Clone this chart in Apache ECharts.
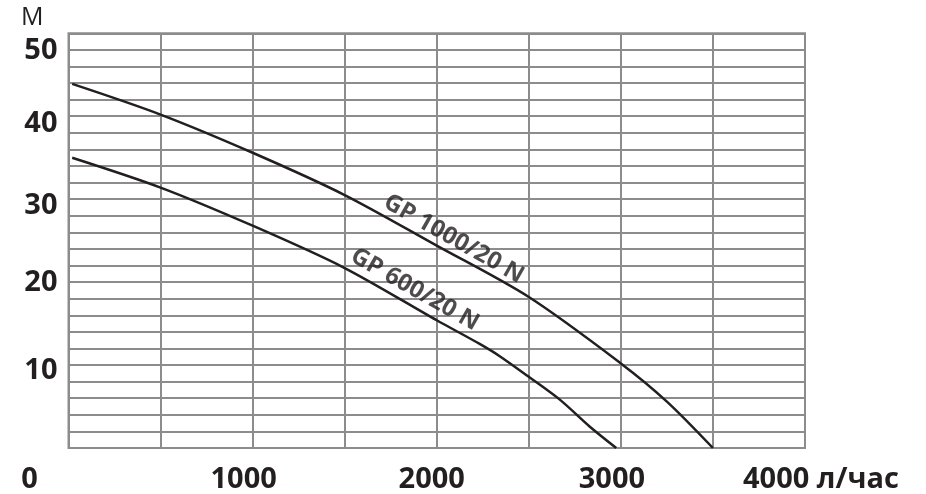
<!DOCTYPE html>
<html>
<head>
<meta charset="utf-8">
<script src="https://cdn.jsdelivr.net/npm/echarts@6/dist/echarts.min.js"></script>
<style>
html,body{margin:0;padding:0;background:#fff;}
#chart{width:926px;height:494px;}
</style>
</head>
<body>
<div id="chart"></div>
<script>
// ---- data ----
const flowGP1000 = [20, 500, 1000, 1500, 2000, 2500, 3000, 3250, 3500];
const headGP1000 = [43.9, 40.2, 35.6, 30.5, 24.4, 18.2, 10.2, 5.6, 0];
const flowGP600 = [20, 500, 1000, 1500, 2000, 2233, 2340, 2505, 2670, 2830, 2975];
const headGP600 = [35.0, 31.4, 26.8, 21.7, 15.4, 12.55, 11.1, 8.5, 5.8, 2.6, 0];
const seriesNames = ['GP 1000/20 N', 'GP 600/20 N'];
const xTickValues = [0, 1000, 2000, 3000, 4000];
const xTickLabels = ['0', '1000', '2000', '3000', '4000 л/час'];
const yTickValues = [10, 20, 30, 40, 50];
const yTickLabels = ['10', '20', '30', '40', '50'];
const yAxisName = 'М';
// annotation anchor points (flow, head) where curve names are written
const annoFlow = [2092, 1881];
const annoHead = [25.2, 19.1];

// ---- styling ----
const FONT = '"Open Sans", "Liberation Sans", sans-serif';
const INK = '#231f20';
const GRID = '#8c8c8c';

const xPad = {0: [0, 78, 0, 0], 1000: [0, 18, 0, 0], 2000: [0, 10, 0, 0], 3000: [0, 18, 0, 0], 4000: [0, 0, 0, 32]};
const yPad = {10: [12, 0, 0, 0], 20: [2, 0, 0, 0], 30: [13, 0, 0, 0], 40: [15, 0, 0, 0], 50: [34, 0, 0, 0]};

function tickStyle(pad) {
  return {fontFamily: FONT, fontWeight: 'bold', fontSize: 29, color: INK, padding: pad};
}
const xRich = {}, yRich = {};
xTickValues.forEach(v => { xRich['x' + v] = tickStyle(xPad[v]); });
yTickValues.forEach(v => { yRich['y' + v] = tickStyle(yPad[v]); });

const pairs = (xs, ys) => xs.map((x, i) => [x, ys[i]]);

const chart = echarts.init(document.getElementById('chart'), null, {renderer: 'canvas'});
chart.setOption({
  animation: false,
  backgroundColor: '#ffffff',
  grid: {left: 68.5, top: 33.3, width: 736.5, height: 415.2, show: true,
         borderColor: GRID, borderWidth: 2, backgroundColor: 'transparent'},
  xAxis: {
    type: 'value', min: 0, max: 4000, interval: 500,
    axisLine: {show: false}, axisTick: {show: false},
    splitLine: {show: true, lineStyle: {color: GRID, width: 2}},
    axisLabel: {
      margin: 17,
      formatter: v => {
        const i = xTickValues.indexOf(v);
        return i < 0 ? '' : '{x' + v + '|' + xTickLabels[i] + '}';
      },
      rich: xRich
    }
  },
  yAxis: {
    type: 'value', min: 0, max: 50, interval: 2,
    name: yAxisName, nameLocation: 'end', nameGap: 3,
    nameTextStyle: {fontFamily: FONT, fontSize: 25, color: INK, align: 'right', padding: [0, 25, 0, 0]},
    axisLine: {show: false}, axisTick: {show: false},
    splitLine: {show: true, lineStyle: {color: GRID, width: 2}},
    axisLabel: {
      margin: 11,
      formatter: v => {
        const i = yTickValues.indexOf(v);
        return i < 0 ? '' : '{y' + v + '|' + yTickLabels[i] + '}';
      },
      rich: yRich
    }
  },
  series: [
    {name: seriesNames[0], type: 'line', data: pairs(flowGP1000, headGP1000),
     smooth: 0.3, symbol: 'none', lineStyle: {color: INK, width: 2.5}, silent: true},
    {name: seriesNames[1], type: 'line', data: pairs(flowGP600, headGP600),
     smooth: 0.3, symbol: 'none', lineStyle: {color: INK, width: 2.5}, silent: true},
    {type: 'scatter', symbolSize: 0, silent: true,
     data: annoFlow.map((f, i) => [f, annoHead[i], seriesNames[i]]),
     label: {show: true, position: 'inside', rotate: -29.5,
             formatter: p => p.value[2],
             fontFamily: FONT, fontWeight: 'bold', fontSize: 24, color: INK}}
  ]
});
</script>
</body>
</html>
